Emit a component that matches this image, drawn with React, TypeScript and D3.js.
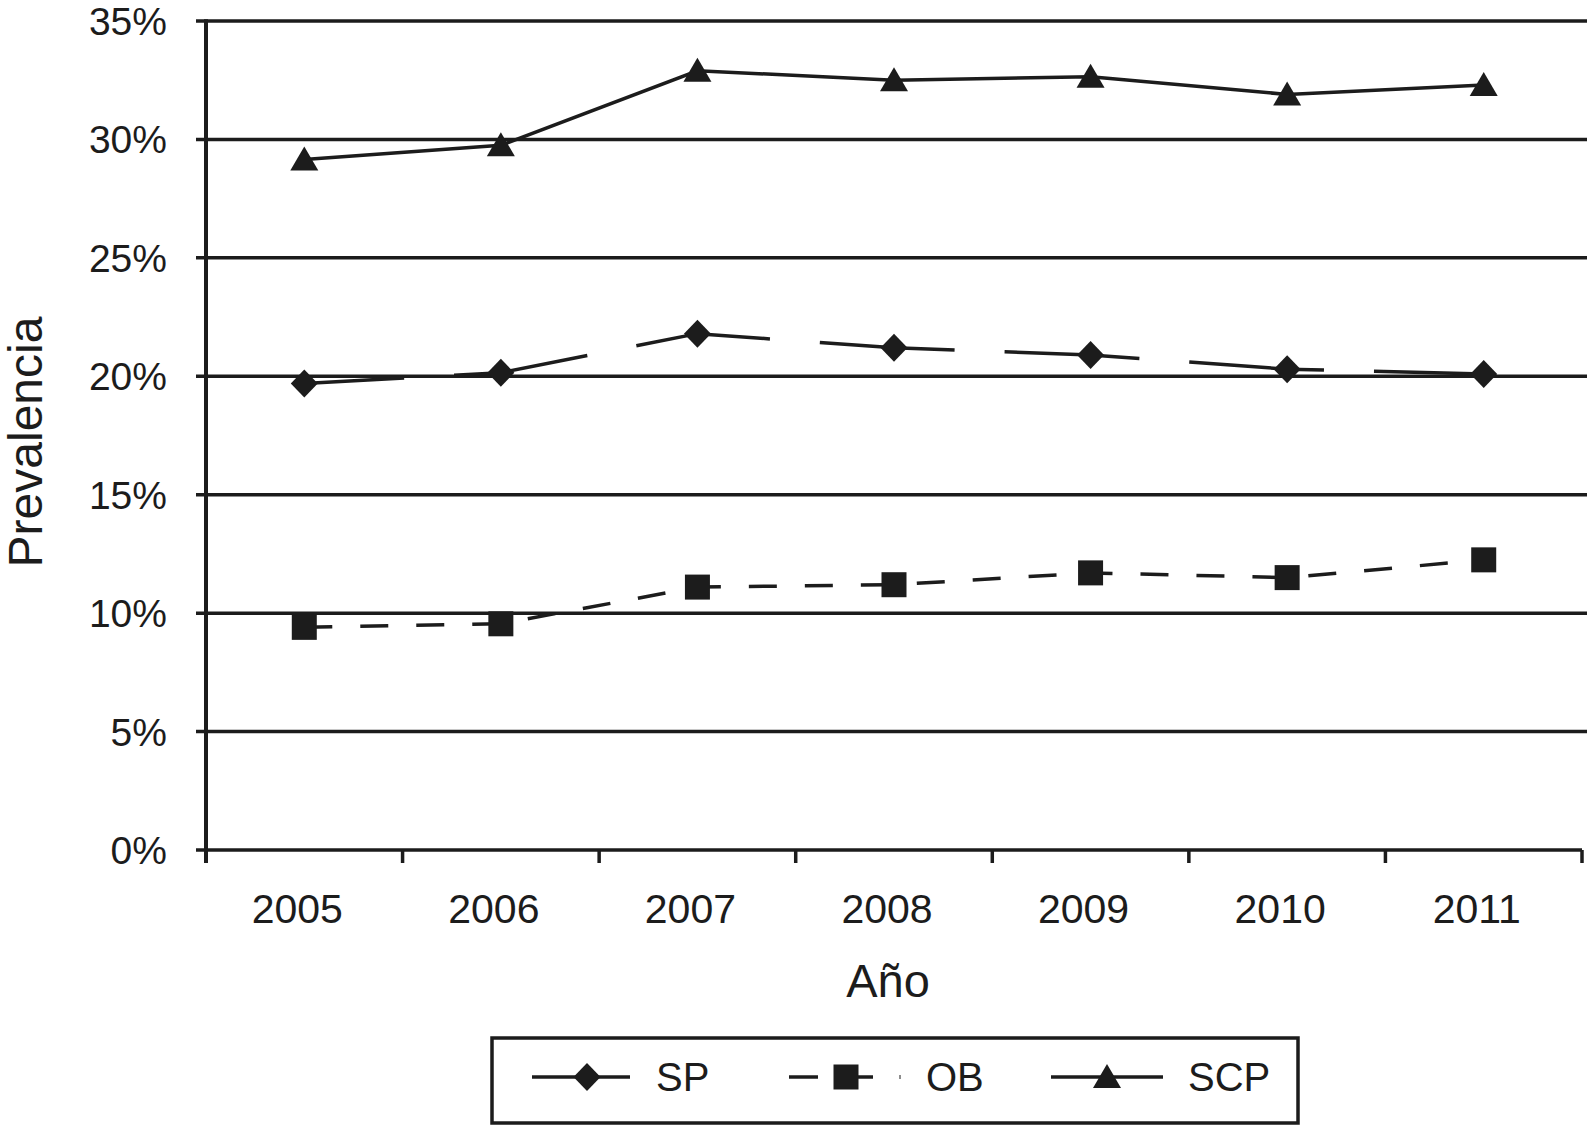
import React from "react";
import * as d3 from "d3";

const years = ["2005", "2006", "2007", "2008", "2009", "2010", "2011"];
const spValues = [19.7, 20.15, 21.8, 21.2, 20.9, 20.3, 20.1];
const obValues = [9.4, 9.55, 11.1, 11.2, 11.7, 11.5, 12.25];
const scpValues = [29.15, 29.75, 32.9, 32.5, 32.65, 31.9, 32.3];
const yTicks = [0, 5, 10, 15, 20, 25, 30, 35];
const seriesNames = ["SP", "OB", "SCP"];

const W = 1587;
const H = 1125;
const left = 206;
const right = 1582;
const top = 21;
const bottom = 850;
const FONT = "'Liberation Sans', Arial, Helvetica, sans-serif";
const INK = "#1c1c1c";

function Marker({ kind, x, y }: { kind: string; x: number; y: number }) {
  if (kind === "SP") {
    const w = 13.5;
    const h = 14;
    return <path d={`M${x},${y - h}L${x + w},${y}L${x},${y + h}L${x - w},${y}Z`} fill={INK} />;
  }
  if (kind === "OB") {
    const s = 12.5;
    return <rect x={x - s} y={y - s} width={2 * s} height={2 * s} fill={INK} />;
  }
  const w = 14;
  return <path d={`M${x},${y - 13}L${x + w},${y + 11}L${x - w},${y + 11}Z`} fill={INK} />;
}

export default function App() {
  const x = d3.scaleBand<string>().domain(years).range([left, right]);
  const y = d3.scaleLinear().domain([0, 35]).range([bottom, top]);
  const cx = (d: string) => (x(d) as number) + x.bandwidth() / 2;

  const series = [
    { name: "SP", values: spValues, dash: "135,50", offset: 35 },
    { name: "OB", values: obValues, dash: "28,28", offset: 0 },
    { name: "SCP", values: scpValues, dash: "none", offset: 0 },
  ];

  const line = d3
    .line<number>()
    .x((_, i) => cx(years[i]))
    .y((v) => y(v));

  const boundaries = years.map((d) => x(d) as number).concat([right]);
  const legY = 1077;

  return (
    <svg
      width={W}
      height={H}
      style={{ position: "absolute", left: 0, top: 0, background: "#fff" }}
      fontFamily={FONT}
    >
      <rect width={W} height={H} fill="#fff" />
      {yTicks.map((t) => (
        <g key={t}>
          <line
            x1={196}
            x2={t === 0 ? right : W}
            y1={y(t)}
            y2={y(t)}
            stroke={INK}
            strokeWidth={3.5}
          />
          <text x={167} y={y(t)} dy="0.36em" textAnchor="end" fontSize={39} fill={INK}>
            {t}%
          </text>
        </g>
      ))}
      <line x1={left} x2={left} y1={top - 1.75} y2={bottom + 13} stroke={INK} strokeWidth={4} />
      {boundaries.map((b, i) => (
        <line key={i} x1={b} x2={b} y1={bottom} y2={bottom + 13} stroke={INK} strokeWidth={3.5} />
      ))}
      {years.map((d) => (
        <text key={d} x={cx(d) - 7} y={908} dy="0.36em" textAnchor="middle" fontSize={41} fill={INK}>
          {d}
        </text>
      ))}
      <text x={888} y={980} dy="0.36em" textAnchor="middle" fontSize={47} fill={INK}>
        Año
      </text>
      <text
        transform={`translate(25,442) rotate(-90)`}
        dy="0.36em"
        textAnchor="middle"
        fontSize={48}
        fill={INK}
      >
        Prevalencia
      </text>
      {series.map((s) => (
        <g key={s.name}>
          <path
            d={line(s.values) || ""}
            fill="none"
            stroke={INK}
            strokeWidth={3.5}
            strokeDasharray={s.dash}
            strokeDashoffset={s.offset}
          />
          {s.values.map((v, i) => (
            <Marker key={i} kind={s.name} x={cx(years[i])} y={y(v)} />
          ))}
        </g>
      ))}
      <rect x={492} y={1038} width={806} height={85} fill="none" stroke={INK} strokeWidth={3.5} />
      <g>
        <line x1={532} x2={630} y1={legY} y2={legY} stroke={INK} strokeWidth={3.5} />
        <Marker kind={seriesNames[0]} x={587} y={legY} />
        <text x={656} y={legY} dy="0.36em" fontSize={40} fill={INK}>{seriesNames[0]}</text>

        <line x1={789} x2={818} y1={legY} y2={legY} stroke={INK} strokeWidth={3.5} />
        <line x1={840} x2={873} y1={legY} y2={legY} stroke={INK} strokeWidth={3.5} />
        <line x1={900} x2={900} y1={legY - 2} y2={legY + 2} stroke={INK} strokeWidth={1} />
        <Marker kind={seriesNames[1]} x={846} y={legY} />
        <text x={926} y={legY} dy="0.36em" fontSize={40} fill={INK}>{seriesNames[1]}</text>

        <line x1={1051} x2={1163} y1={legY} y2={legY} stroke={INK} strokeWidth={3.5} />
        <Marker kind={seriesNames[2]} x={1107} y={legY} />
        <text x={1188} y={legY} dy="0.36em" fontSize={40} fill={INK}>{seriesNames[2]}</text>
      </g>
    </svg>
  );
}
